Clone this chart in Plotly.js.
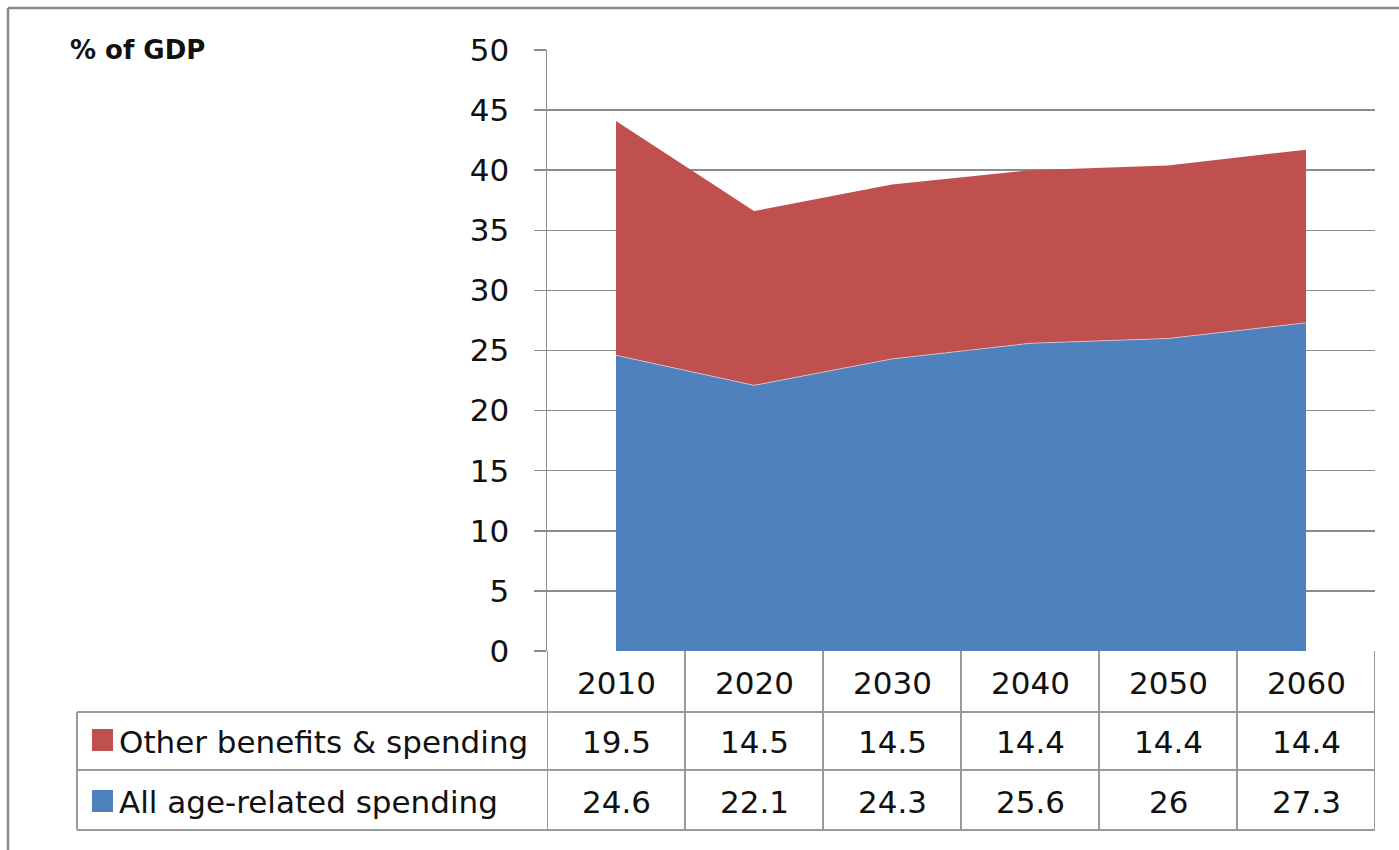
<!DOCTYPE html>
<html>
<head>
<meta charset="utf-8">
<script src="https://cdn.plot.ly/plotly-3.0.1.min.js"></script>
<style>html,body{margin:0;padding:0;background:#fff;}#chart{width:1399px;height:850px;}</style>
</head>
<body>
<div id="chart"></div>
<script>
const years = ["2010", "2020", "2030", "2040", "2050", "2060"];
const ageRelated = [24.6, 22.1, 24.3, 25.6, 26, 27.3];
const otherBenefits = [19.5, 14.5, 14.5, 14.4, 14.4, 14.4];
const ageLabels = ["24.6", "22.1", "24.3", "25.6", "26", "27.3"];
const otherLabels = ["19.5", "14.5", "14.5", "14.4", "14.4", "14.4"];
const seriesNames = ["Other benefits & spending", "All age-related spending"];
const yTicks = [0, 5, 10, 15, 20, 25, 30, 35, 40, 45, 50];

const RED = "#C0504D", BLUE = "#4F81BD";
const GRID = "#8c8c8c", TBL = "#9a9a9a";
const FONT = "DejaVu Sans, sans-serif";

const W = 1399, H = 850;
const L = 547, R = 1375, T = 50, B = 651;
const px = x => (x - L) / (R - L);
const py = y => (B - y) / (B - T);

const traces = [
  {x: years, y: ageRelated, type: "scatter", mode: "lines", stackgroup: "one",
   name: seriesNames[1], fillcolor: BLUE, line: {color: "rgba(230,230,240,0.6)", width: 1}, hoverinfo: "x+y+name"},
  {x: years, y: otherBenefits, type: "scatter", mode: "lines", stackgroup: "one",
   name: seriesNames[0], fillcolor: RED, line: {color: RED, width: 0}, hoverinfo: "x+y+name"}
];

const shapes = [];
const annotations = [];
const line = (x0, y0, x1, y1, xref, color, w) => shapes.push({type: "line", xref: xref || "paper", yref: "paper",
  x0: x0, y0: y0, x1: x1, y1: y1, line: {color: color || TBL, width: w || 2}});

// outer frame
line(px(8), py(8), px(1399), py(8), "paper", "#8a8a8a", 2.5);
line(px(8), py(8), px(8), py(850), "paper", "#8a8a8a", 2.5);

// table verticals at category boundaries
for (let i = 0; i <= years.length; i++) {
  shapes.push({type: "line", xref: "x", yref: "paper", x0: i - 0.5, x1: i - 0.5, y0: 0, y1: py(830), line: {color: TBL, width: 2}});
}
// table horizontals
line(px(77), py(712), px(R), py(712));
line(px(77), py(770), px(R), py(770));
line(px(77), py(830), px(R), py(830));
line(px(77), py(712), px(77), py(830));

// legend keys
shapes.push({type: "rect", xref: "paper", yref: "paper", x0: px(92), x1: px(113), y0: py(729), y1: py(751), fillcolor: RED, line: {width: 0}});
shapes.push({type: "rect", xref: "paper", yref: "paper", x0: px(92), x1: px(113), y0: py(790), y1: py(812), fillcolor: BLUE, line: {width: 0}});

const tf = {family: FONT, size: 31, color: "#111"};
years.forEach((yr, i) => {
  annotations.push({x: i, xref: "x", y: py(683), yref: "paper", text: yr, showarrow: false, font: tf, xanchor: "center", yanchor: "middle"});
  annotations.push({x: i, xref: "x", y: py(742), yref: "paper", text: otherLabels[i], showarrow: false, font: tf, xanchor: "center", yanchor: "middle"});
  annotations.push({x: i, xref: "x", y: py(802), yref: "paper", text: ageLabels[i], showarrow: false, font: tf, xanchor: "center", yanchor: "middle"});
});
annotations.push({x: px(117), xref: "paper", y: py(742), yref: "paper", text: seriesNames[0], showarrow: false, font: tf, xanchor: "left", yanchor: "middle"});
annotations.push({x: px(117), xref: "paper", y: py(802), yref: "paper", text: seriesNames[1], showarrow: false, font: tf, xanchor: "left", yanchor: "middle"});
annotations.push({x: px(68), xref: "paper", y: py(50), yref: "paper", text: "<b>% of GDP</b>", showarrow: false,
  font: {family: FONT, size: 26, color: "#111"}, xanchor: "left", yanchor: "middle"});

const layout = {
  width: W, height: H,
  margin: {l: L, r: W - R, t: T, b: H - B, pad: 0},
  paper_bgcolor: "#fff", plot_bgcolor: "#fff",
  showlegend: false,
  xaxis: {type: "category", range: [-0.5, years.length - 0.5], showticklabels: false, showgrid: false,
    zeroline: false, showline: false, ticks: "", fixedrange: true},
  yaxis: {range: [0, 50], tickvals: yTicks, ticktext: yTicks.map(String), ticks: "outside", ticklen: 12,
    tickcolor: GRID, tickwidth: 1.5, showline: true, linecolor: GRID, linewidth: 1.5,
    showgrid: true, gridcolor: GRID, gridwidth: 1.5, zeroline: false, layer: "below traces",
    tickfont: {family: FONT, size: 31, color: "#111"}, ticklabelstandoff: 18, fixedrange: true},
  shapes: shapes,
  annotations: annotations
};

Plotly.newPlot("chart", traces, layout, {displayModeBar: false, staticPlot: true});
</script>
</body>
</html>
